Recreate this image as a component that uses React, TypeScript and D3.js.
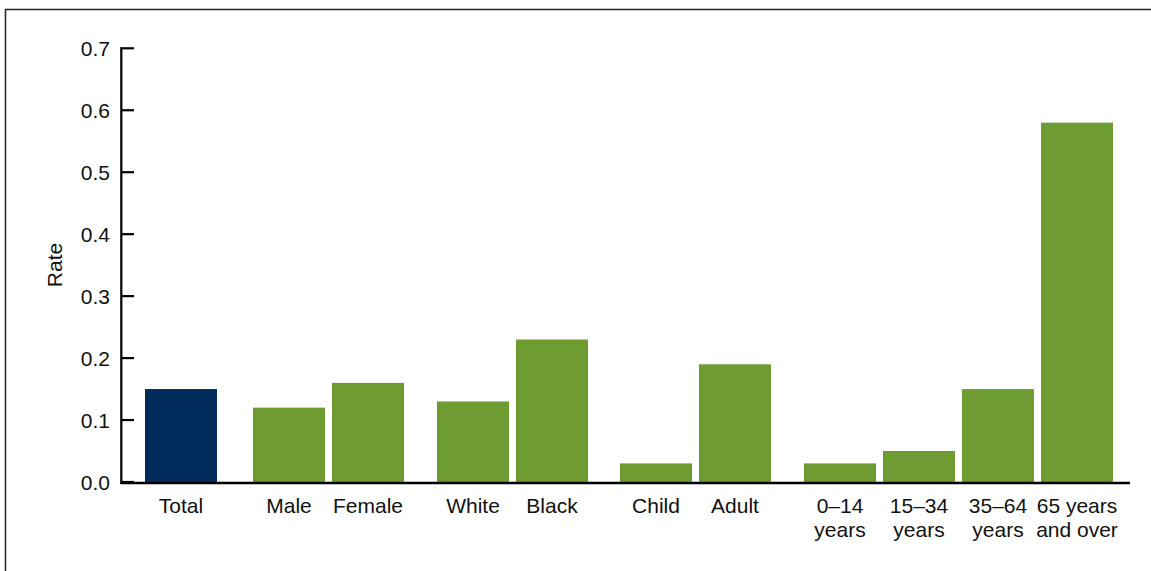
import React from "react";
import * as d3 from "d3";

const categories: string[][] = [
  ["Total"],
  ["Male"],
  ["Female"],
  ["White"],
  ["Black"],
  ["Child"],
  ["Adult"],
  ["0–14", "years"],
  ["15–34", "years"],
  ["35–64", "years"],
  ["65 years", "and over"],
];
const groups: number[] = [0, 1, 1, 2, 2, 3, 3, 4, 4, 4, 4];
const values: number[] = [0.15, 0.12, 0.16, 0.13, 0.23, 0.03, 0.19, 0.03, 0.05, 0.15, 0.58];
const yTicks: number[] = [0, 0.1, 0.2, 0.3, 0.4, 0.5, 0.6, 0.7];

const W = 1151;
const H = 571;
const NAVY = "#002B5A";
const GREEN = "#6E9C33";
const FONT = "'Liberation Sans', Arial, Helvetica, sans-serif";
// cumulative extra spacing (in bar steps) before each group
const groupOffsets = [0, 29 / 79, 55 / 79, 80 / 79, 106 / 79];

export default function App() {
  const barW = 72;
  const unitOf = (i: number) => i + groupOffsets[groups[i]];
  const x = d3
    .scaleLinear()
    .domain([0, unitOf(values.length - 1)])
    .range([145, 1041]);
  const y = d3.scaleLinear().domain([0, 0.7]).range([482, 48.3]);
  const axisX = 121.3;

  return (
    <svg
      width={W}
      height={H}
      style={{ position: "absolute", left: 0, top: 0, background: "#fff" }}
      fontFamily={FONT}
    >
      <rect x={5.5} y={9.5} width={1200} height={700} fill="none" stroke="#222" strokeWidth={1.5} />
      {values.map((v, i) => (
        <rect
          key={i}
          x={x(unitOf(i))}
          y={y(v)}
          width={barW}
          height={y(0) - y(v)}
          fill={i === 0 ? NAVY : GREEN}
        />
      ))}
      {/* y axis */}
      <line x1={axisX} x2={axisX} y1={y(0.7) - 1} y2={y(0) + 2} stroke="#000" strokeWidth={2.2} />
      {yTicks.map((t) => (
        <g key={t}>
          <line x1={axisX} x2={134} y1={y(t)} y2={y(t)} stroke="#000" strokeWidth={2.2} />
          <text x={110} y={y(t) + 8} textAnchor="end" fontSize={21} fill="#111">
            {d3.format(".1f")(t)}
          </text>
        </g>
      ))}
      {/* x axis */}
      <line x1={axisX - 1} x2={1130} y1={483} y2={483} stroke="#000" strokeWidth={2.5} />
      {categories.map((lines, i) => (
        <text key={i} textAnchor="middle" fontSize={21} fill="#111">
          {lines.map((l, j) => (
            <tspan key={j} x={x(unitOf(i)) + barW / 2} y={512.5 + j * 24}>
              {l}
            </tspan>
          ))}
        </text>
      ))}
      <text
        transform={`translate(62,265) rotate(-90)`}
        textAnchor="middle"
        fontSize={21}
        fill="#111"
      >
        Rate
      </text>
    </svg>
  );
}
